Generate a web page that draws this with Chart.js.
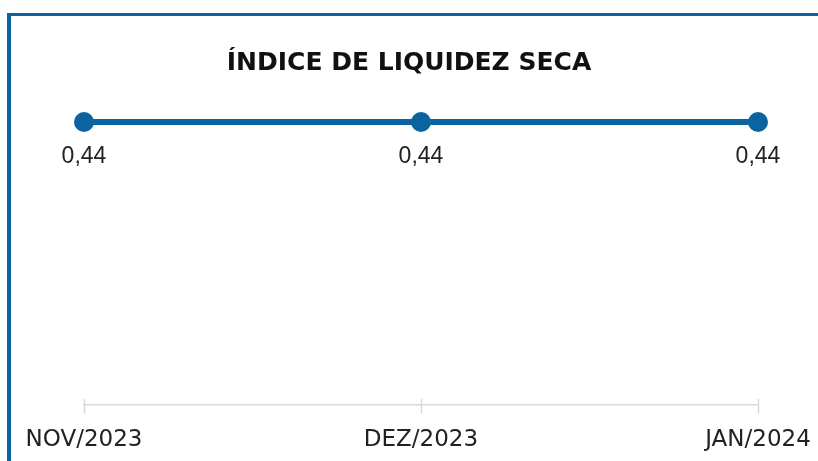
<!DOCTYPE html>
<html>
<head>
<meta charset="utf-8">
<script src="https://cdn.jsdelivr.net/npm/chart.js@4"></script>
<style>
    body { margin: 0; background: #fff; }
    #frame {
        position: absolute; left: 7px; top: 13px; width: 811px; height: 448px;
        border-left: 4px solid #0b64a0; border-top: 3px solid #0b64a0;
    }
    #box { position: absolute; left: 0; top: 0; width: 807px; height: 445px; }
</style>
</head>
<body>
<div id="frame"><div id="box"><canvas id="liquidezChart"></canvas></div></div>
<script>
const categories = ['NOV/2023', 'DEZ/2023', 'JAN/2024'];
const liquidezSeca = [0.44, 0.44, 0.44];
const valueLabels = ['0,44', '0,44', '0,44'];

const lineColor = '#0b64a0';

// value labels under each point
const pointLabels = {
    id: 'pointLabels',
    afterDatasetsDraw(chart) {
        const ctx = chart.ctx;
        const meta = chart.getDatasetMeta(0);
        ctx.save();
        ctx.font = '23px "Liberation Sans"';
        ctx.fillStyle = '#222';
        ctx.textAlign = 'center';
        ctx.textBaseline = 'middle';
        meta.data.forEach((pt, i) => {
            ctx.fillText(valueLabels[i], pt.x, pt.y + 35);
        });
        ctx.restore();
    }
};

// small tick marks crossing the x axis line
const axisTicks = {
    id: 'axisTicks',
    afterDraw(chart) {
        const ctx = chart.ctx;
        const xs = chart.scales.x;
        ctx.save();
        ctx.strokeStyle = '#d9d9d9';
        ctx.lineWidth = 1.5;
        xs.ticks.forEach((t, i) => {
            const px = Math.round(xs.getPixelForTick(i)) + 0.5;
            ctx.beginPath();
            ctx.moveTo(px, xs.top - 6);
            ctx.lineTo(px, xs.top + 9);
            ctx.stroke();
        });
        ctx.restore();
    }
};

const ctx = document.getElementById('liquidezChart').getContext('2d');
new Chart(ctx, {
    type: 'line',
    data: {
        labels: categories,
        datasets: [{
            data: liquidezSeca,
            borderColor: lineColor,
            backgroundColor: lineColor,
            borderWidth: 6,
            pointRadius: 10,
            pointHoverRadius: 10,
            pointBackgroundColor: lineColor,
            pointBorderWidth: 0,
            clip: false
        }]
    },
    options: {
        responsive: true,
        maintainAspectRatio: false,
        animation: false,
        layout: { padding: { left: 0, right: 11, top: 0, bottom: 0 } },
        scales: {
            x: {
                offset: false,
                grid: { display: true, drawOnChartArea: false, drawTicks: false },
                border: { display: true, color: '#d9d9d9', width: 1.5 },
                ticks: {
                    padding: 21,
                    color: '#222',
                    maxRotation: 0,
                    font: { family: '"DejaVu Sans"', size: 23 }
                },
                afterFit: s => { s.height = 56; s.paddingLeft = 0; s.paddingRight = 0; }
            },
            y: {
                min: 0,
                max: 0.44,
                position: 'left',
                ticks: { display: false },
                grid: { display: false },
                border: { display: false },
                afterFit: s => { s.width = 73; }
            },
            y2: {
                type: 'linear',
                position: 'right',
                ticks: { display: false },
                grid: { display: false },
                border: { display: false },
                afterFit: s => { s.width = 49; }
            }
        },
        plugins: {
            legend: { display: false },
            tooltip: { enabled: false },
            title: {
                display: true,
                text: 'ÍNDICE DE LIQUIDEZ SECA',
                color: '#111',
                padding: { top: 32, bottom: 44 },
                font: { family: '"DejaVu Sans"', size: 25, weight: 'bold' }
            }
        }
    },
    plugins: [pointLabels, axisTicks]
});
</script>
</body>
</html>
